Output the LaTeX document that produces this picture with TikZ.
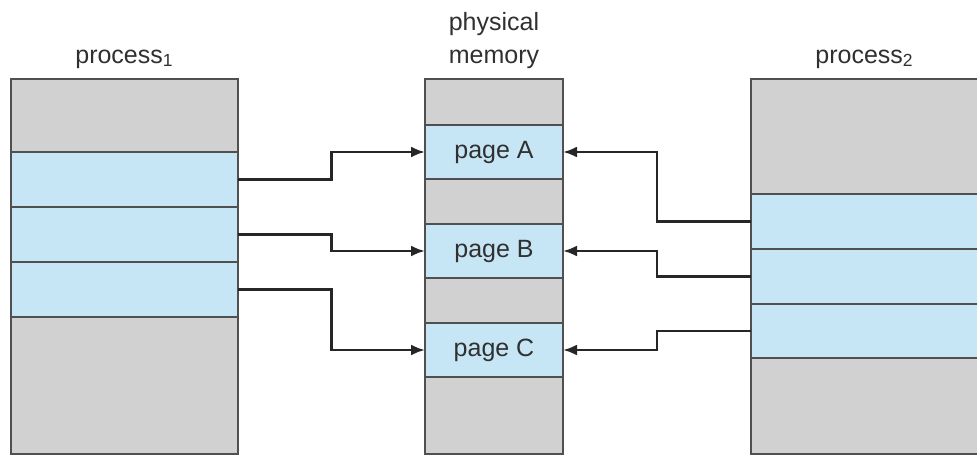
\documentclass[tikz,border=0pt]{standalone}
\usepackage{fontspec}
\setmainfont{Liberation Sans}
\usetikzlibrary{arrows.meta, positioning, calc}
\definecolor{freegrey}{HTML}{D1D1D1}
\definecolor{pageblue}{HTML}{C6E6F5}
\definecolor{edgegrey}{HTML}{505050}
\definecolor{textgrey}{HTML}{303030}

\begin{document}
\begin{tikzpicture}[
		every node/.style={font=\fontsize{12.5}{16.5}\selectfont, text=textgrey, inner sep=0pt, outer sep=0pt},
		seg/.style={rectangle, draw=edgegrey, line width=0.9pt},
		free/.style={seg, fill=freegrey, minimum height=#1},
		used/.style={seg, fill=pageblue, minimum height=#1},
		proc/.style={minimum width=113.5pt},
		mem/.style={minimum width=69pt},
		head/.style={anchor=base, align=center},
		map/.style={draw=black!85, line width=1.3pt, -{Latex[length=7pt, width=5.5pt]},
				to path={-| ($(\tikztostart)!0.5!(\tikztotarget)$) |- (\tikztotarget)}}
	]
	\useasboundingbox (0,0) rectangle (488.5pt,-227.5pt);

	% process 1
	\node[free=36.5pt, proc, anchor=north west] (p1a) at (5.5pt,-39.5pt) {};
	\node[used=27.5pt, proc, below=0pt of p1a] (p1b) {};
	\node[used=27.5pt, proc, below=0pt of p1b] (p1c) {};
	\node[used=27.5pt, proc, below=0pt of p1c] (p1d) {};
	\node[free=68.5pt, proc, below=0pt of p1d] (p1e) {};

	% physical memory
	\node[free=23pt, mem, anchor=north west] (m0) at (212.5pt,-39.5pt) {};
	\node[used=27pt, mem, below=0pt of m0] (pageA) {page A};
	\node[free=22.5pt, mem, below=0pt of pageA] (m1) {};
	\node[used=27pt, mem, below=0pt of m1] (pageB) {page B};
	\node[free=22.5pt, mem, below=0pt of pageB] (m2) {};
	\node[used=27pt, mem, below=0pt of m2] (pageC) {page C};
	\node[free=38.5pt, mem, below=0pt of pageC] (m3) {};

	% process 2
	\node[free=57.5pt, proc, anchor=north west] (p2a) at (375.5pt,-39.5pt) {};
	\node[used=27.5pt, proc, below=0pt of p2a] (p2b) {};
	\node[used=27.5pt, proc, below=0pt of p2b] (p2c) {};
	\node[used=27pt, proc, below=0pt of p2c] (p2d) {};
	\node[free=48pt, proc, below=0pt of p2d] (p2e) {};

	% titles
	\node[head] (p1title) at ([yshift=8pt]p1a.north) {process\textsubscript{1}};
	\node[head] (memtitle) at ([yshift=8pt]m0.north) {physical\\memory};
	\node[head] (p2title) at ([yshift=8pt]p2a.north) {process\textsubscript{2}};

	% mappings
	\draw[map] (p1b.east) to (pageA.west);
	\draw[map] (p1c.east) to (pageB.west);
	\draw[map] (p1d.east) to (pageC.west);
	\draw[map] (p2b.west) to (pageA.east);
	\draw[map] (p2c.west) to (pageB.east);
	\draw[map] (p2d.west) to (pageC.east);
\end{tikzpicture}
\end{document}
